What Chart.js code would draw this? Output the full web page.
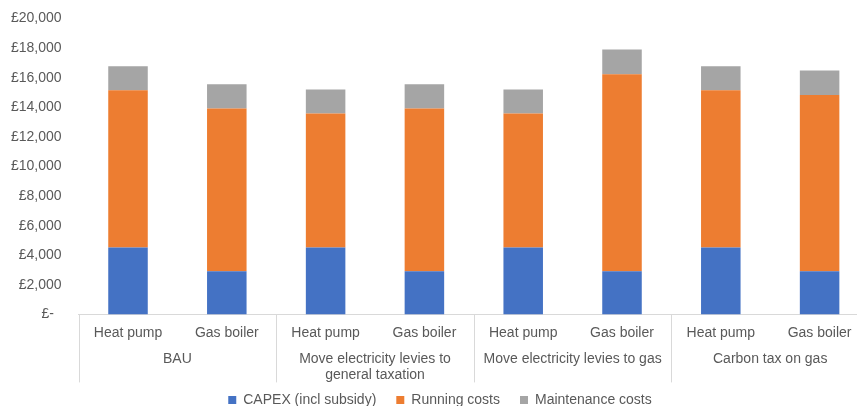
<!DOCTYPE html>
<html lang="en">
  <head>
    <meta charset="UTF-8" />
    <title>Lifetime costs</title>
    <script src="https://cdn.jsdelivr.net/npm/chart.js@4.4.0/dist/chart.umd.min.js"></script>
    <style>
      html, body { margin: 0; padding: 0; overflow: hidden; background: #fff; }
      canvas { display: block; }
    </style>
  </head>
  <body>
    <canvas id="chart" width="884" height="428"></canvas>
    <script>
      // Lifetime cost per household, by heating system and policy scenario
      const categories = ["Heat pump", "Gas boiler", "Heat pump", "Gas boiler",
                          "Heat pump", "Gas boiler", "Heat pump", "Gas boiler"];
      const scenarios = ["BAU", ["Move electricity levies to", "general taxation"],
                         "Move electricity levies to gas", "Carbon tax on gas"];
      const capex = [4530, 2930, 4530, 2930, 4530, 2930, 4530, 2930];
      const running = [10630, 10990, 9050, 10990, 9050, 13310, 10630, 11910];
      const maintenance = [1620, 1640, 1620, 1640, 1620, 1670, 1620, 1650];

      const textColor = "#595959";
      const lineColor = "#d9d9d9";
      const font = { family: "'Liberation Sans', Arial, sans-serif", size: 14 };

      // vertical dividers between scenario groups, down through both label rows
      const groupDividers = {
        id: "groupDividers",
        afterDraw(chart) {
          const x = chart.scales.x;
          const x2 = chart.scales.x2;
          const ctx = chart.ctx;
          const edges = [chart.chartArea.left, chart.chartArea.right];
          for (let i = 2; i < categories.length; i += 2) {
            edges.push((x.getPixelForValue(i - 1) + x.getPixelForValue(i)) / 2);
          }
          ctx.save();
          ctx.strokeStyle = lineColor;
          ctx.lineWidth = 1;
          edges.forEach((px) => {
            const p = Math.round(px) + 0.5;
            ctx.beginPath();
            ctx.moveTo(p, x.top);
            ctx.lineTo(p, x2.top + 41);
            ctx.stroke();
          });
          ctx.restore();
        },
      };

      // the legend sits a little closer to the scenario labels than its padding allows
      const legendLift = {
        id: "legendLift",
        afterLayout(chart) {
          chart.legend.top -= 11;
          chart.legend.bottom -= 11;
        },
      };

      const ctx = document.getElementById("chart").getContext("2d");
      new Chart(ctx, {
        type: "bar",
        data: {
          labels: categories,
          datasets: [
            { label: "CAPEX (incl subsidy)", data: capex, backgroundColor: "#4472c4" },
            { label: "Running costs", data: running, backgroundColor: "#ed7d31" },
            { label: "Maintenance costs", data: maintenance, backgroundColor: "#a5a5a5" },
          ],
        },
        options: {
          responsive: false,
          animation: false,
          layout: { padding: { top: 18.5, right: 15, left: 11, bottom: 0 } },
          datasets: { bar: { categoryPercentage: 1, barPercentage: 0.4 } },
          scales: {
            x: {
              stacked: true,
              weight: 0,
              grid: { display: false, tickLength: 10 },
              border: { display: true, color: lineColor, width: 1 },
              ticks: { color: textColor, font, autoSkip: false, maxRotation: 0, padding: 0 },
            },
            x2: {
              type: "category",
              axis: "x",
              position: "bottom",
              weight: 1,
              labels: scenarios,
              offset: true,
              grid: { display: false, tickLength: 9 },
              border: { display: false },
              ticks: { color: textColor, font, autoSkip: false, maxRotation: 0, padding: 0 },
            },
            y: {
              stacked: true,
              min: 0,
              max: 20000,
              grid: { display: false, tickLength: 17 },
              border: { display: false },
              ticks: {
                stepSize: 2000,
                color: textColor,
                font,
                padding: 0,
                callback: (v) => (v === 0 ? "£-  " : "£" + v.toLocaleString("en-GB")),
              },
            },
          },
          plugins: {
            legend: {
              position: "bottom",
              labels: { color: textColor, font, boxWidth: 8, boxHeight: 8, padding: 20 },
            },
            tooltip: { enabled: false },
          },
        },
        plugins: [groupDividers, legendLift],
      });
    </script>
  </body>
</html>
